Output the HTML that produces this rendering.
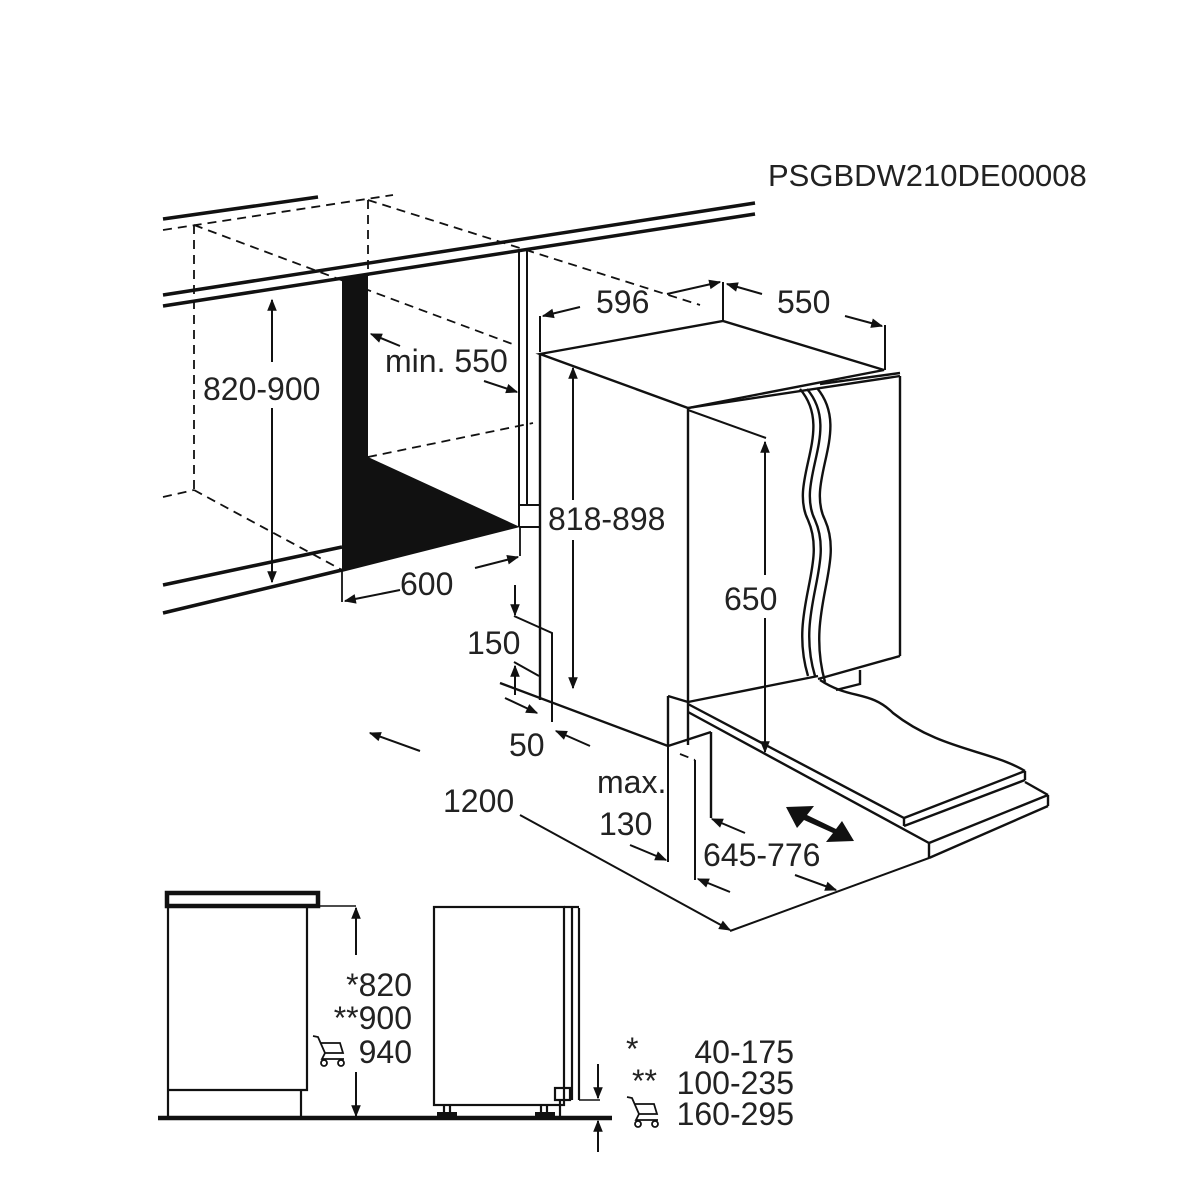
<!DOCTYPE html>
<html><head><meta charset="utf-8"><style>
html,body{margin:0;padding:0;background:#fff}
svg{display:block}
text{font-family:"Liberation Sans",Arial,sans-serif;fill:#222}
</style></head><body>
<svg width="1198" height="1200" viewBox="0 0 1198 1200" xmlns="http://www.w3.org/2000/svg">
<defs>
<marker id="a" viewBox="0 0 10 10" refX="9" refY="5" markerWidth="17" markerHeight="12" markerUnits="userSpaceOnUse" orient="auto-start-reverse"><path d="M0,1 L10,5 L0,9 z" fill="#111"/></marker>
</defs>
<g stroke="#111" fill="none" stroke-width="2.4">
<line x1="163" y1="219" x2="318" y2="197" stroke-width="3.5"/>
<line x1="163" y1="295" x2="755" y2="203" stroke-width="3.5"/>
<line x1="163" y1="306" x2="755" y2="214" stroke-width="3.5"/>
<line x1="163" y1="585" x2="342" y2="547" stroke-width="3.5"/>
<line x1="163" y1="613" x2="342" y2="570" stroke-width="3.5"/>
<g stroke-dasharray="9,6" stroke-width="1.8">
<line x1="163" y1="230" x2="393" y2="195"/>
<line x1="194" y1="225" x2="194" y2="490"/>
<line x1="368" y1="200" x2="368" y2="276"/>
<line x1="194" y1="225" x2="515" y2="345"/>
<line x1="368" y1="200" x2="700" y2="305"/>
<line x1="163" y1="497" x2="194" y2="490"/>
<line x1="194" y1="490" x2="342" y2="570"/>
<line x1="368" y1="457" x2="533" y2="423"/>
<line x1="680" y1="754" x2="695" y2="760"/>
</g>
<line x1="519" y1="250" x2="519" y2="527" stroke-width="2"/>
<line x1="527" y1="250" x2="527" y2="505" stroke-width="2"/>
<polyline points="519,505 540,505 540,527 519,527" stroke-width="2"/>
<line x1="342" y1="570" x2="342" y2="602" stroke-width="1.8"/>
<line x1="520" y1="527" x2="520" y2="556" stroke-width="1.8"/>
</g>
<polygon points="342,278 368,274 368,457 520,527 342,572" fill="#111"/>

<g stroke="#111" fill="none" stroke-width="2">
<line x1="272" y1="300" x2="272" y2="362" marker-start="url(#a)"/>
<line x1="272" y1="408" x2="272" y2="582" marker-end="url(#a)"/>
<line x1="400" y1="346" x2="371" y2="334" marker-end="url(#a)"/>
<line x1="484" y1="381" x2="517" y2="392" marker-end="url(#a)"/>
<line x1="400" y1="590" x2="345" y2="601" marker-end="url(#a)"/>
<line x1="475" y1="568" x2="518" y2="557" marker-end="url(#a)"/>

<g stroke-width="2.4">
<polygon points="540,354 723,321 884,370 688,408" fill="#fff"/>
<line x1="540" y1="354" x2="540" y2="700"/>
<line x1="688" y1="408" x2="688" y2="745"/>
<line x1="900" y1="376" x2="900" y2="656"/>
<line x1="688" y1="408" x2="900" y2="376"/>
<line x1="820" y1="384" x2="900" y2="373"/>
<line x1="688" y1="702" x2="818" y2="676"/>
<line x1="818" y1="679" x2="900" y2="656"/>
<path d="M800,389 C835,430 788,480 808,520 C828,565 788,610 808,676"/>
<path d="M807,389 C842,430 795,480 815,520 C835,565 795,610 815,676"/>
<path d="M817,388 C852,430 805,480 825,520 C845,565 805,610 825,682"/>
<polyline points="836,690 860,684 860,670"/>
<polyline points="668,696 688,702"/>
<line x1="668" y1="696" x2="668" y2="746"/>
<line x1="500" y1="683" x2="668" y2="746"/>
<line x1="668" y1="746" x2="711" y2="732"/>
<path d="M820,680 C850,700 870,690 893,713 C940,750 990,750 1025,771" />
<line x1="688" y1="704" x2="904" y2="818"/>
<line x1="711" y1="732" x2="711" y2="818"/>
<line x1="904" y1="818" x2="1025" y2="771"/>
<line x1="1025" y1="771" x2="1025" y2="780"/>
<line x1="904" y1="818" x2="904" y2="826"/>
<line x1="904" y1="826" x2="1025" y2="780"/>
<line x1="688" y1="712" x2="929" y2="843"/>
<line x1="1025" y1="782" x2="1048" y2="795"/>
<line x1="929" y1="843" x2="1048" y2="795"/>
<line x1="1048" y1="795" x2="1048" y2="806"/>
<line x1="929" y1="843" x2="929" y2="858"/>
<line x1="929" y1="858" x2="1048" y2="806"/>
</g>

<line x1="540" y1="316" x2="540" y2="352"/>
<line x1="723" y1="282" x2="723" y2="321"/>
<line x1="885" y1="325" x2="885" y2="370"/>
<line x1="580" y1="307" x2="543" y2="316" marker-end="url(#a)"/>
<line x1="667" y1="294" x2="720" y2="282" marker-end="url(#a)"/>
<line x1="762" y1="294" x2="727" y2="284" marker-end="url(#a)"/>
<line x1="845" y1="316" x2="882" y2="326" marker-end="url(#a)"/>
<line x1="573" y1="368" x2="573" y2="500" marker-start="url(#a)"/>
<line x1="573" y1="540" x2="573" y2="688" marker-end="url(#a)"/>
<line x1="688" y1="410" x2="766" y2="438"/>
<line x1="765" y1="442" x2="765" y2="575" marker-start="url(#a)"/>
<line x1="765" y1="618" x2="765" y2="752" marker-end="url(#a)"/>
<line x1="515" y1="585" x2="515" y2="615" marker-end="url(#a)"/>
<polyline points="514,616 552,633 552,722"/>
<line x1="515" y1="695" x2="515" y2="666" marker-end="url(#a)"/>
<line x1="514" y1="662" x2="539" y2="676"/>
<line x1="505" y1="698" x2="537" y2="713" marker-end="url(#a)"/>
<line x1="590" y1="746" x2="556" y2="731" marker-end="url(#a)"/>
<line x1="420" y1="751" x2="370" y2="733" marker-end="url(#a)"/>
<line x1="520" y1="815" x2="730" y2="930" marker-end="url(#a)"/>
<line x1="730" y1="931" x2="929" y2="858"/>
<line x1="630" y1="845" x2="666" y2="860" marker-end="url(#a)"/>
<line x1="668" y1="746" x2="668" y2="862"/>
<line x1="695" y1="760" x2="695" y2="880"/>
<line x1="745" y1="833" x2="712" y2="819" marker-end="url(#a)"/>
<line x1="730" y1="892" x2="698" y2="879" marker-end="url(#a)"/>
<line x1="795" y1="875" x2="836" y2="890" marker-end="url(#a)"/>
</g>
<g fill="#111">
<polygon points="786,807 814,806 807,815 836,829 842,821 854,841 826,842 833,833 804,820 797,828"/>
</g>

<g stroke="#111" fill="none" stroke-width="2.2">
<rect x="167" y="893" width="151" height="13" stroke-width="4.5"/>
<polyline points="168,908 168,1118"/>
<polyline points="307,908 307,1090 168,1090"/>
<line x1="301" y1="1090" x2="301" y2="1118"/>
<line x1="158" y1="1118" x2="612" y2="1118" stroke-width="4.5"/>
<line x1="318" y1="906" x2="356" y2="906" stroke-width="1.6"/>
<line x1="356" y1="955" x2="356" y2="908" marker-end="url(#a)" stroke-width="2"/>
<line x1="356" y1="1072" x2="356" y2="1116" marker-end="url(#a)" stroke-width="2"/>
<rect x="434" y="907" width="130" height="198"/>
<line x1="572" y1="908" x2="572" y2="1100"/>
<line x1="579" y1="908" x2="579" y2="1100"/>
<line x1="564" y1="907" x2="579" y2="907"/>
<rect x="555" y="1088" width="15" height="12"/>
<line x1="560" y1="1100" x2="560" y2="1118"/>
<line x1="579" y1="1100" x2="600" y2="1100" stroke-width="1.6"/>
<line x1="444" y1="1105" x2="444" y2="1114"/><line x1="450" y1="1105" x2="450" y2="1114"/>
<line x1="541" y1="1105" x2="541" y2="1114"/><line x1="547" y1="1105" x2="547" y2="1114"/>
<line x1="598" y1="1064" x2="598" y2="1098" marker-end="url(#a)" stroke-width="2"/>
<line x1="598" y1="1152" x2="598" y2="1121" marker-end="url(#a)" stroke-width="2"/>
</g>
<rect x="437" y="1112" width="20" height="6" fill="#111"/>
<rect x="535" y="1112" width="20" height="6" fill="#111"/>
<g stroke="#111" fill="none" stroke-width="1.8">
<path d="M313,1036 l5,1 l7,16 h18 l-3,-10 h-19"/><path d="M325,1053 l-3,6 h22"/><circle cx="324" cy="1063" r="3"/><circle cx="341" cy="1063" r="3"/>
<path d="M627,1097 l5,1 l7,16 h18 l-3,-10 h-19"/><path d="M639,1114 l-3,6 h22"/><circle cx="638" cy="1124" r="3"/><circle cx="655" cy="1124" r="3"/>
</g>

<g font-size="32">
<text x="768" y="186" font-size="31">PSGBDW210DE00008</text>
<text x="203" y="400">820-900</text>
<text x="385" y="372">min. 550</text>
<text x="400" y="595">600</text>
<text x="596" y="313">596</text>
<text x="777" y="313">550</text>
<text x="548" y="530">818-898</text>
<text x="724" y="610">650</text>
<text x="467" y="654">150</text>
<text x="509" y="756">50</text>
<text x="443" y="812">1200</text>
<text x="597" y="793">max.</text>
<text x="599" y="835">130</text>
<text x="703" y="866">645-776</text>
<text x="412" y="996" text-anchor="end">*820</text>
<text x="412" y="1029" text-anchor="end">**900</text>
<text x="412" y="1063" text-anchor="end">940</text>
<text x="626" y="1060">*</text>
<text x="794" y="1063" text-anchor="end">40-175</text>
<text x="632" y="1092">**</text>
<text x="794" y="1094" text-anchor="end">100-235</text>
<text x="794" y="1125" text-anchor="end">160-295</text>
</g>
</svg>
</body></html>
